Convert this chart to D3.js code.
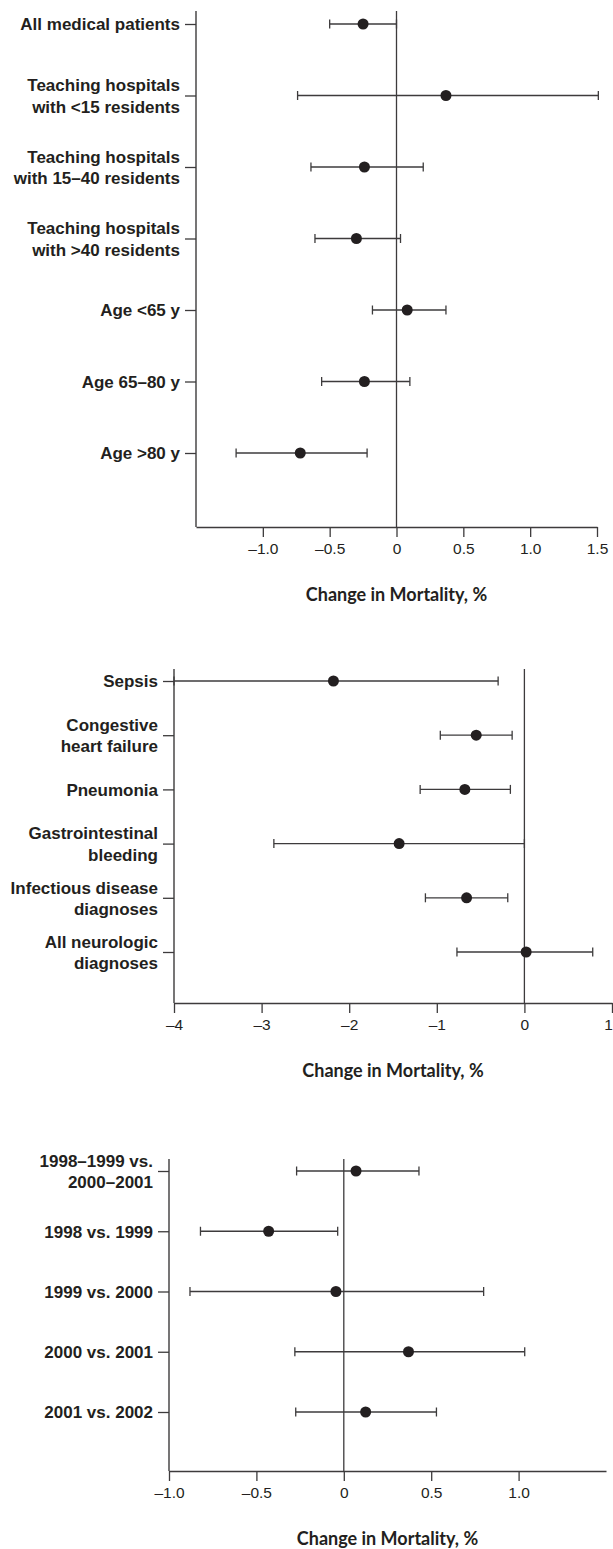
<!DOCTYPE html>
<html>
<head>
<meta charset="utf-8">
<script src="https://cdn.jsdelivr.net/npm/d3@7"></script>
<style>
  body { margin: 0; background: #fff; }
</style>
</head>
<body>
<script>
const overallWidth = 613
const overallHeight = 1549

// panel 1: patient groups
const groupLabels = [
  'All medical patients',
  'Teaching hospitals\nwith <15 residents',
  'Teaching hospitals\nwith 15–40 residents',
  'Teaching hospitals\nwith >40 residents',
  'Age <65 y',
  'Age 65–80 y',
  'Age >80 y'
]
const groupEst = [-0.25, 0.37, -0.24, -0.30, 0.08, -0.24, -0.72]
const groupLo = [-0.50, -0.74, -0.64, -0.61, -0.18, -0.56, -1.20]
const groupHi = [0.00, 1.51, 0.20, 0.03, 0.37, 0.10, -0.22]
const groupTicks = [-1, -0.5, 0, 0.5, 1, 1.5]
const groupTickLabels = ['–1.0', '–0.5', '0', '0.5', '1.0', '1.5']

// panel 2: diagnoses
const diagLabels = [
  'Sepsis',
  'Congestive\nheart failure',
  'Pneumonia',
  'Gastrointestinal\nbleeding',
  'Infectious disease\ndiagnoses',
  'All neurologic\ndiagnoses'
]
const diagEst = [-2.18, -0.55, -0.68, -1.43, -0.66, 0.02]
const diagLo = [-4.0, -0.96, -1.19, -2.86, -1.13, -0.77]
const diagHi = [-0.30, -0.14, -0.16, 0.00, -0.19, 0.78]
const diagTicks = [-4, -3, -2, -1, 0, 1]
const diagTickLabels = ['–4', '–3', '–2', '–1', '0', '1']

// panel 3: years
const yearLabels = [
  '1998–1999 vs.\n2000–2001',
  '1998 vs. 1999',
  '1999 vs. 2000',
  '2000 vs. 2001',
  '2001 vs. 2002'
]
const yearEst = [0.07, -0.43, -0.045, 0.37, 0.125]
const yearLo = [-0.27, -0.82, -0.88, -0.28, -0.275]
const yearHi = [0.43, -0.035, 0.80, 1.035, 0.53]
const yearTicks = [-1, -0.5, 0, 0.5, 1]
const yearTickLabels = ['–1.0', '–0.5', '0', '0.5', '1.0']

const ink = '#231f20'
const lineCol = '#3d3b3c'

const svg = d3.select('body').append('svg')
  .attr('width', overallWidth)
  .attr('height', overallHeight)
  .style('font-family', 'Lato, sans-serif')

function panel (p) {
  const x = d3.scaleLinear().domain(p.xDomain).range(p.xRange)
  const y = d3.scalePoint().domain(p.labels).range(p.yRange)
  const g = svg.append('g')
  const rows = p.labels.map((l, i) => ({ label: l, est: p.est[i], lo: p.lo[i], hi: p.hi[i] }))

  // zero reference line
  g.append('line')
    .attr('x1', x(0)).attr('x2', x(0))
    .attr('y1', p.top).attr('y2', p.bottom)
    .attr('stroke', lineCol).attr('stroke-width', 1.3)

  // left axis
  g.append('line')
    .attr('x1', p.xRange[0]).attr('x2', p.xRange[0])
    .attr('y1', p.top).attr('y2', p.bottom)
    .attr('stroke', lineCol).attr('stroke-width', 1.4)

  g.append('g')
    .attr('transform', `translate(${p.xRange[0]},0)`)
    .call(d3.axisLeft(y).tickSize(11).tickPadding(5))
    .call(a => a.select('.domain').remove())
    .call(a => a.selectAll('.tick line').attr('stroke', lineCol).attr('stroke-width', 1.3))
    .call(a => a.selectAll('.tick text')
      .attr('fill', ink)
      .style('font-size', '17px')
      .style('font-weight', 'bold')
      .attr('dy', null)
      .each(function (d) {
        const lines = d.split('\n')
        const t = d3.select(this).text(null)
        lines.forEach((s, i) => t.append('tspan')
          .attr('x', -16)
          .attr('y', (i - (lines.length - 1) / 2) * 21.5)
          .attr('dy', '0.35em')
          .text(s))
      }))

  // bottom axis
  g.append('g')
    .attr('transform', `translate(0,${p.bottom})`)
    .call(d3.axisBottom(x).tickValues(p.ticks).tickSize(10).tickSizeOuter(0).tickPadding(6)
      .tickFormat((d, i) => p.tickLabels[i]))
    .call(a => a.select('.domain').attr('stroke', lineCol).attr('stroke-width', 1.4))
    .call(a => a.selectAll('.tick line').attr('stroke', lineCol).attr('stroke-width', 1.3))
    .call(a => a.selectAll('.tick text').attr('fill', ink).style('font-size', '15.5px')
      // keep a label sitting on the page edge inside the page
      .attr('dx', d => x(d) > overallWidth - 6 ? -4 : 0))

  // error bars
  const bars = g.append('g').selectAll('g').data(rows).enter().append('g')
  bars.append('line')
    .attr('x1', d => x(d.lo)).attr('x2', d => x(d.hi))
    .attr('y1', d => y(d.label)).attr('y2', d => y(d.label))
    .attr('stroke', lineCol).attr('stroke-width', 1.3)
  bars.selectAll('.cap').data(d => [d.lo, d.hi].map(v => ({ v, y: y(d.label) })))
    .enter().append('line')
    .attr('class', 'cap')
    .attr('x1', d => x(d.v)).attr('x2', d => x(d.v))
    .attr('y1', d => d.y - 4.5).attr('y2', d => d.y + 4.5)
    .attr('stroke', lineCol).attr('stroke-width', 1.3)
  bars.append('circle')
    .attr('cx', d => x(d.est)).attr('cy', d => y(d.label))
    .attr('r', 5.5)
    .attr('fill', ink)

  svg.append('text')
    .text('Change in Mortality, %')
    .attr('x', (p.xRange[0] + p.xRange[1]) / 2)
    .attr('y', p.bottom + 74)
    .attr('text-anchor', 'middle')
    .attr('fill', ink)
    .style('font-size', '18px')
    .style('font-weight', 'bold')
}

panel({
  labels: groupLabels, est: groupEst, lo: groupLo, hi: groupHi,
  ticks: groupTicks, tickLabels: groupTickLabels,
  xDomain: [-1.5, 1.5], xRange: [196, 597],
  yRange: [24, 453], top: 11, bottom: 527
})

panel({
  labels: diagLabels, est: diagEst, lo: diagLo, hi: diagHi,
  ticks: diagTicks, tickLabels: diagTickLabels,
  xDomain: [-4, 1], xRange: [174, 612],
  yRange: [681, 952], top: 669, bottom: 1003
})

panel({
  labels: yearLabels, est: yearEst, lo: yearLo, hi: yearHi,
  ticks: yearTicks, tickLabels: yearTickLabels,
  xDomain: [-1, 1.5], xRange: [169, 606],
  yRange: [1171, 1412], top: 1159, bottom: 1471
})
</script>
</body>
</html>
